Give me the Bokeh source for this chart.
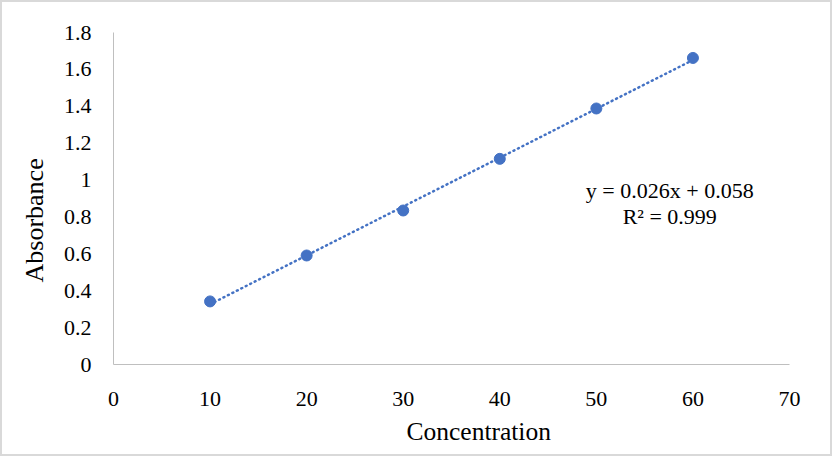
import numpy as np
from bokeh.plotting import figure
from bokeh.models import Range1d, Label, FixedTicker, CustomJSTickFormatter, Title
from bokeh.embed import file_html
from bokeh.resources import INLINE

# ---- data ----
concentration = [10, 20, 30, 40, 50, 60]
absorbance = [0.342, 0.591, 0.835, 1.115, 1.388, 1.662]
x_ticks = [0, 10, 20, 30, 40, 50, 60, 70]
y_ticks = [0, 0.2, 0.4, 0.6, 0.8, 1.0, 1.2, 1.4, 1.6, 1.8]
equation_text = "y = 0.026x + 0.058"
r2_text = "R² = 0.999"
x_title = "Concentration"
y_title = "Absorbance"

BLUE = "#4472C4"
AXIS = "#BFBFBF"
FONT = "Liberation Serif"

p = figure(
    frame_width=676, frame_height=332,
    min_border_left=111, min_border_right=41,
    min_border_top=30, min_border_bottom=90,
    x_range=Range1d(0, 70), y_range=Range1d(0, 1.8),
    output_backend="svg", toolbar_location=None,
    background_fill_color="white", border_fill_color="white",
)
p.outline_line_color = None
p.xgrid.grid_line_color = None
p.ygrid.grid_line_color = None

for ax in (p.xaxis[0], p.yaxis[0]):
    ax.axis_line_color = AXIS
    ax.axis_line_width = 1
    ax.major_tick_line_color = None
    ax.minor_tick_line_color = None
    ax.major_label_text_font = FONT
    ax.major_label_text_font_size = "22px"
    ax.major_label_text_color = "black"

p.xaxis.ticker = FixedTicker(ticks=x_ticks)
p.yaxis.ticker = FixedTicker(ticks=y_ticks)
p.yaxis.formatter = CustomJSTickFormatter(code="return tick.toFixed(1).replace(/\\.0$/, '');")
p.xaxis.major_label_standoff = 21
p.yaxis.major_label_standoff = 16

# trendline (least squares fit of the data)
slope, intercept = np.polyfit(concentration, absorbance, 1)
tx = [min(concentration), max(concentration)]
ty = [slope * v + intercept for v in tx]
p.line(tx, ty, line_color=BLUE, line_width=2.5, line_dash="1 4", line_cap="round")

p.scatter(concentration, absorbance, size=11, marker="circle",
          fill_color=BLUE, line_color=BLUE)

# equation annotation
p.add_layout(Label(x=57.6, y=0.943, text=equation_text, text_align="center",
                   text_baseline="middle", text_font=FONT, text_font_size="22px",
                   text_color="black"))
p.add_layout(Label(x=57.6, y=0.802, text=r2_text, text_align="center",
                   text_baseline="middle", text_font=FONT, text_font_size="22px",
                   text_color="black"))

# axis titles (placed as side titles so they can sit off-centre like the original)
p.add_layout(Title(text=x_title, align="left", offset=293, standoff=12,
                   text_font=FONT, text_font_size="25.5px", text_font_style="normal",
                   text_color="black"), "below")
p.add_layout(Title(text=y_title, align="left", offset=82, standoff=24,
                   text_font=FONT, text_font_size="26px", text_font_style="normal",
                   text_color="black"), "left")

p.styles = {"border": "2px solid #D9D9D9", "box-sizing": "border-box"}

open("out.html", "w").write(file_html(p, INLINE))
